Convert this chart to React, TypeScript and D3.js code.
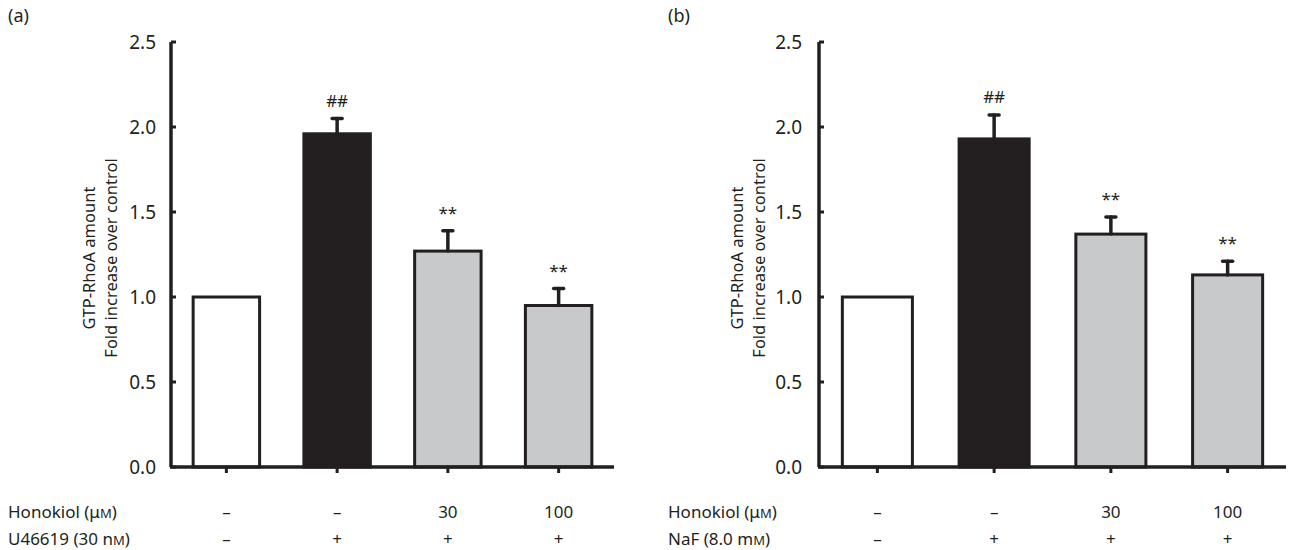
import React from 'react';
import * as d3 from 'd3';

const conditions = ['control', 'agonist', 'honokiol30', 'honokiol100'];
const honokiolLabels = ['–', '–', '30', '100'];
const agonistLabels = ['–', '+', '+', '+'];
const yTicks = [0, 0.5, 1.0, 1.5, 2.0, 2.5];

const valuesA = [1.0, 1.96, 1.27, 0.95];
const errorsA = [0, 0.09, 0.12, 0.1];
const marksA = ['', '##', '**', '**'];

const valuesB = [1.0, 1.93, 1.37, 1.13];
const errorsB = [0, 0.14, 0.1, 0.08];
const marksB = ['', '##', '**', '**'];

const fills = ['#ffffff', '#231f20', '#c8c9cb', '#c8c9cb'];
const ink = '#231f20';
const font = '"Noto Sans", "Open Sans", sans-serif';

type PanelProps = {
  tag: string;
  left: number;
  axisX: number;
  axisEnd: number;
  tickGap: number;
  values: number[];
  errors: number[];
  marks: string[];
  agonist: React.ReactNode;
  labelX: number;
};

const Panel = ({ tag, left, axisX, axisEnd, tickGap, values, errors, marks, agonist, labelX }: PanelProps) => {
  const y = d3.scaleLinear().domain([0, 2.5]).range([467, 42]);
  const x = d3.scaleBand().domain(conditions).range([axisX, axisEnd]).padding(0);
  const bw = x.bandwidth() * 0.6;
  const cx = (c: string) => (x(c) ?? 0) + x.bandwidth() / 2;

  return (
    <g>
      <text x={left} y={22} fontSize={18} fill={ink}>{tag}</text>

      {/* y axis title */}
      <g transform={`translate(${labelX},258) rotate(-90)`}>
        <text textAnchor="middle" y={0} fontSize={16.5} fill={ink}>GTP-RhoA amount</text>
        <text textAnchor="middle" y={22} fontSize={16.5} fill={ink}>Fold increase over control</text>
      </g>

      {/* bars */}
      {conditions.map((c, i) => (
        <rect key={c} x={cx(c) - bw / 2} y={y(values[i])} width={bw} height={y(0) - y(values[i])}
          fill={fills[i]} stroke={ink} strokeWidth={3} />
      ))}

      {/* error bars */}
      {conditions.map((c, i) => errors[i] > 0 && (
        <g key={c} stroke={ink} strokeWidth={3.5} strokeLinecap="round">
          <line x1={cx(c)} x2={cx(c)} y1={y(values[i])} y2={y(values[i] + errors[i])} />
          <line x1={cx(c) - 5} x2={cx(c) + 5} y1={y(values[i] + errors[i])} y2={y(values[i] + errors[i])} />
        </g>
      ))}

      {/* significance marks */}
      {conditions.map((c, i) => marks[i] && (
        <text key={c} x={cx(c)} y={y(values[i] + errors[i]) - 12} textAnchor="middle" fontSize={17} fill={ink}>
          {marks[i]}
        </text>
      ))}

      {/* y axis */}
      <line x1={axisX} x2={axisX} y1={y(2.5)} y2={y(0)} stroke={ink} strokeWidth={3.5} />
      {yTicks.map(t => (
        <g key={t}>
          <line x1={axisX} x2={axisX + 5} y1={y(t)} y2={y(t)} stroke={ink} strokeWidth={3} />
          <text x={axisX - tickGap} y={y(t)} dy="0.35em" textAnchor="end" fontSize={19} fill={ink}>
            {d3.format('.1f')(t)}
          </text>
        </g>
      ))}

      {/* x axis */}
      <line x1={axisX - 1} x2={axisEnd} y1={y(0)} y2={y(0)} stroke={ink} strokeWidth={3.5} />
      {conditions.map(c => (
        <line key={c} x1={cx(c)} x2={cx(c)} y1={y(0)} y2={y(0) + 6} stroke={ink} strokeWidth={3} />
      ))}

      {/* treatment rows */}
      <text x={left} y={518} fontSize={17} fill={ink}>
        Honokiol (μ<tspan fontSize={13}>M</tspan>)
      </text>
      <text x={left} y={545} fontSize={17} fill={ink}>{agonist}</text>
      {conditions.map((c, i) => (
        <g key={c}>
          <text x={cx(c)} y={518} textAnchor="middle" fontSize={17} fill={ink}>{honokiolLabels[i]}</text>
          <text x={cx(c)} y={545} textAnchor="middle" fontSize={17} fill={ink}>{agonistLabels[i]}</text>
        </g>
      ))}
    </g>
  );
};

export default function App() {
  return (
    <div style={{ position: 'absolute', left: 0, top: 0 }}>
      <svg width={1289} height={550} style={{ display: 'block', fontFamily: font }}>
        <rect width={1289} height={550} fill="#ffffff" />
        <Panel tag="(a)" left={8} axisX={171} axisEnd={614} tickGap={15}
          values={valuesA} errors={errorsA} marks={marksA} labelX={95}
          agonist={<>U46619 (30 n<tspan fontSize={13}>M</tspan>)</>} />
        <Panel tag="(b)" left={668} axisX={819} axisEnd={1286} tickGap={17}
          values={valuesB} errors={errorsB} marks={marksB} labelX={743}
          agonist={<>NaF (8.0 m<tspan fontSize={13}>M</tspan>)</>} />
      </svg>
    </div>
  );
}
